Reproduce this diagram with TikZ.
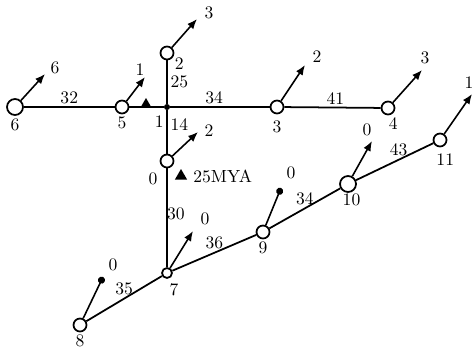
\documentclass[tikz,border=0pt]{standalone}
\usepackage{tikz}
\usetikzlibrary{arrows.meta, shapes.geometric}

\begin{document}
\begin{tikzpicture}[x=0.02cm, y=-0.02cm,
	    >=Latex,
	    every node/.style={font=\normalsize},
	    gene/.style={circle, draw, line width=1pt, fill=white, minimum size=0.26cm, inner sep=0pt},
	    biggene/.style={gene, minimum size=0.32cm},
	    junction/.style={circle, fill, minimum size=0.12cm, inner sep=0pt},
	    branch/.style={line width=1pt},
	    gain/.style={-{Latex[length=2mm, width=1.6mm]}, line width=0.9pt},
	    nogain/.style={-{Circle[length=1.4mm]}, line width=0.9pt},
	    tri/.style={regular polygon, regular polygon sides=3, fill, inner sep=0pt, minimum size=0.24cm},
	    elbl/.style={inner sep=1.5pt}
	  ]
	  \useasboundingbox (0,0) rectangle (476,348);
	
	  % nodes of the tree
	  \node[biggene, label={[yshift=2pt]below:6}] (n6) at (15,107) {};
	  \node[gene, label={[yshift=2pt]below:5}] (n5) at (122,107) {};
	  \node[junction, label={[xshift=3pt]below left:1}] (n1) at (167,107) {};
	  \node[gene, label={[xshift=-2pt, yshift=4pt]below right:2}] (n2) at (167,53) {};
	  \node[gene, label=below:3] (n3) at (277,107) {};
	  \node[gene, label={[xshift=3pt, yshift=2pt]below:4}] (n4) at (388,108) {};
	  \node[gene, label={[xshift=1pt]below left:0}] (n0) at (167,161) {};
	  \node[gene, minimum size=0.2cm, label={[xshift=4pt, yshift=1pt]below:7}] (n7) at (167,273) {};
	  \node[gene, label={[yshift=2pt]below:8}] (n8) at (80,325) {};
	  \node[gene, label={[yshift=2pt]below:9}] (n9) at (263,232) {};
	  \node[biggene, label={[xshift=2pt, yshift=3pt]below:10}] (n10) at (348,184) {};
	  \node[gene, label={[xshift=3pt]below:11}] (n11) at (440,140) {};
	
	  % branches with their lengths
	  \draw[branch] (n6) -- (n5) node[elbl, midway, above] {32};
	  \draw[branch] (n5) -- (n1);
	  \draw[branch] (n1) -- (n3) node[elbl, pos=0.44, above] {34};
	  \draw[branch] (n3) -- (n4) node[elbl, pos=0.53, above] {41};
	  \draw[branch] (n1) -- (n2) node[elbl, midway, right] {25};
	  \draw[branch] (n1) -- (n0) node[elbl, pos=0.32, right] {14};
	  \draw[branch] (n0) -- (n7) node[elbl, pos=0.46, right, xshift=-2pt] {30};
	  \draw[branch] (n7) -- (n8) node[elbl, midway, above] {35};
	  \draw[branch] (n7) -- (n9) node[elbl, pos=0.5, above] {36};
	  \draw[branch] (n9) -- (n10) node[elbl, midway, above] {34};
	  \draw[branch] (n10) -- (n11) node[elbl, pos=0.55, above] {43};
	
	  % gains on each node
	  \coordinate (t6) at (45,74);   \node (g6) at (55,68) {6};
	  \coordinate (t5) at (145,77);  \node (g5) at (140,70) {1};
	  \coordinate (t2) at (197,19);  \node (g2) at (209,13) {3};
	  \coordinate (t3) at (305,65);  \node (g3) at (317,57) {2};
	  \coordinate (t4) at (422,70);  \node (g4) at (425,58) {3};
	  \coordinate (t0) at (198,132); \node (g0) at (209,131) {2};
	  \coordinate (t7) at (193,231); \node (g7) at (205,219) {0};
	  \coordinate (t8) at (103,277); \node (g8) at (113,265) {0};
	  \coordinate (t9) at (281,188); \node (g9) at (291,173) {0};
	  \coordinate (t10) at (372,141); \node (g10) at (367,130) {0};
	  \coordinate (t11) at (472,94); \node (g11) at (469,83) {1};
	  \draw[gain] (n6) -- (t6);
	  \draw[gain] (n5) -- (t5);
	  \draw[gain] (n2) -- (t2);
	  \draw[gain] (n3) -- (t3);
	  \draw[gain] (n4) -- (t4);
	  \draw[gain] (n0) -- (t0);
	  \draw[gain] (n7) -- (t7);
	  \draw[nogain] (n8) -- (t8);
	  \draw[nogain] (n9) -- (t9);
	  \draw[gain] (n10) -- (t10);
	  \draw[gain] (n11) -- (t11);
	
	  % markers
	  \node[tri] (m1) at (146,104) {};
	  \node[tri, minimum size=0.28cm] (m0) at (181,176) {};
	  \node[right=1pt] (mya) at (m0.east) {25MYA};
	\end{tikzpicture}
\end{document}
